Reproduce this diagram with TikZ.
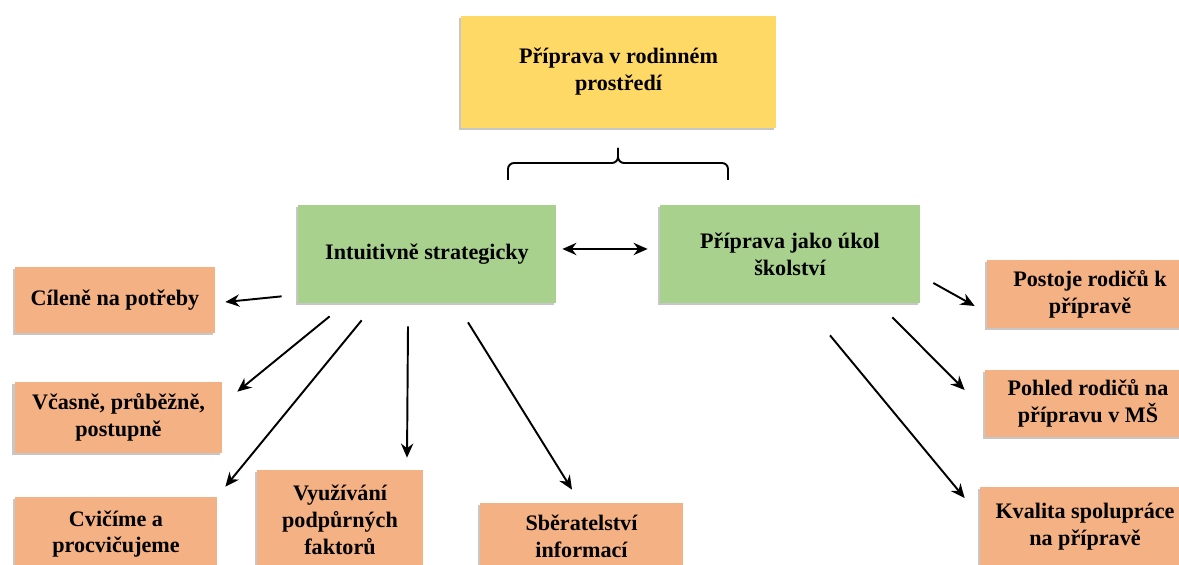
\documentclass[tikz,border=0pt]{standalone}
\usepackage{fontspec}
\setmainfont{Liberation Serif}
\usepackage{xcolor}
\usepackage{tikz}
\usetikzlibrary{positioning, arrows.meta, calc, shadows}
\definecolor{topgold}{HTML}{FFD966}
\definecolor{midgreen}{HTML}{A9D18E}
\definecolor{leaforange}{HTML}{F4B183}

\begin{document}
\begin{tikzpicture}[
    every node/.style={font=\fontsize{12.6}{15.3}\selectfont\bfseries},
    topic box/.style={rectangle, align=center, inner sep=4pt,
                      drop shadow={shadow xshift=-0.05cm, shadow yshift=-0.04cm,
                                   fill=black, opacity=0.22}},
    arr/.style={-{Stealth[length=8pt,width=7pt]}, line width=1.1pt},
  ]

  % ============ FRAME ============
  \useasboundingbox (0,0) rectangle (23.58,-11.3);
  \clip (0,0) rectangle (23.58,-11.3);

  % ============ TOP BLOCK ============
  \node[topic box, fill=topgold, minimum width=6.3cm, minimum height=2.24cm]
    (rodina) at (12.37,-1.44) {Příprava v rodinném\\prostředí};

  % brace under the top block
  \draw[line width=1.1pt] (10.16,-3.6) -- (10.16,-3.38)
    arc[start angle=180, end angle=90, radius=0.12] -- (12.24,-3.26)
    arc[start angle=-90, end angle=0, radius=0.12] -- (12.36,-2.96);
  \draw[line width=1.1pt] (12.36,-2.96) -- (12.36,-3.14)
    arc[start angle=180, end angle=270, radius=0.12] -- (14.44,-3.26)
    arc[start angle=90, end angle=0, radius=0.12] -- (14.56,-3.6);

  % ============ GREEN BLOCKS ============
  \node[topic box, fill=midgreen, minimum width=5.16cm, minimum height=1.96cm]
    (intu) at (8.54,-5.08) {Intuitivně strategicky};
  \node[topic box, fill=midgreen, minimum width=5.2cm, minimum height=1.96cm]
    (skol) at (15.8,-5.08) {Příprava jako úkol\\školství};

  \draw[arr, {Stealth[length=8pt,width=7pt]}-{Stealth[length=8pt,width=7pt]}]
    ([xshift=0.12cm, yshift=0.1cm]intu.east) -- ([xshift=-0.24cm, yshift=0.1cm]skol.west);

  % ============ LEFT BRANCH ============
  \node[topic box, fill=leaforange, minimum width=4.0cm, minimum height=1.32cm]
    (cil) at (2.3,-6.0) {Cíleně na potřeby};
  \node[topic box, fill=leaforange, minimum width=4.14cm, minimum height=1.42cm]
    (vcas) at (2.37,-8.35) {Včasně, průběžně,\\postupně};
  \node[topic box, fill=leaforange, minimum width=4.04cm, minimum height=1.48cm]
    (cvic) at (2.32,-10.68) {Cvičíme a\\procvičujeme};
  \node[topic box, fill=leaforange, minimum width=3.32cm, minimum height=1.98cm]
    (vyuz) at (6.8,-10.39) {Využívání\\podpůrných\\faktorů};
  \node[topic box, fill=leaforange, minimum width=4.06cm, minimum height=1.34cm]
    (sber) at (11.63,-10.73) {Sběratelství\\informací};

  \draw[arr] ([xshift=-0.32cm, yshift=0.14cm]intu.south west) -- ([xshift=0.2cm, yshift=-0.04cm]cil.east);
  \draw[arr] ([xshift=0.64cm, yshift=-0.26cm]intu.south west) -- ([xshift=0.3cm, yshift=-0.2cm]vcas.north east);
  \draw[arr] ([xshift=1.28cm, yshift=-0.34cm]intu.south west) -- ([xshift=0.16cm, yshift=0.2cm]cvic.north east);
  \draw[arr] ([xshift=-0.38cm, yshift=-0.46cm]intu.south) -- ([xshift=1.34cm, yshift=0.24cm]vyuz.north);
  \draw[arr] ([xshift=0.82cm, yshift=-0.38cm]intu.south) -- ([xshift=-0.19cm, yshift=0.26cm]sber.north);

  % ============ RIGHT BRANCH ============
  \node[topic box, fill=leaforange, minimum width=4.12cm, minimum height=1.36cm]
    (post) at (21.8,-5.88) {Postoje rodičů k\\přípravě};
  \node[topic box, fill=leaforange, minimum width=4.12cm, minimum height=1.34cm]
    (pohl) at (21.76,-8.07) {Pohled rodičů na\\přípravu v MŠ};
  \node[topic box, fill=leaforange, minimum width=4.2cm, minimum height=1.6cm]
    (kval) at (21.7,-10.54) {Kvalita spolupráce\\na přípravě};

  \draw[arr] ([xshift=0.26cm, yshift=-0.58cm]skol.east) -- ([xshift=-0.24cm, yshift=-0.24cm]post.west);
  \draw[arr] ([xshift=-0.56cm, yshift=-0.28cm]skol.south east) -- ([xshift=-0.4cm, yshift=0.27cm]pohl.west);
  \draw[arr] ([xshift=0.8cm, yshift=-0.64cm]skol.south) -- ([xshift=-0.3cm, yshift=0.58cm]kval.west);

\end{tikzpicture}
\end{document}
